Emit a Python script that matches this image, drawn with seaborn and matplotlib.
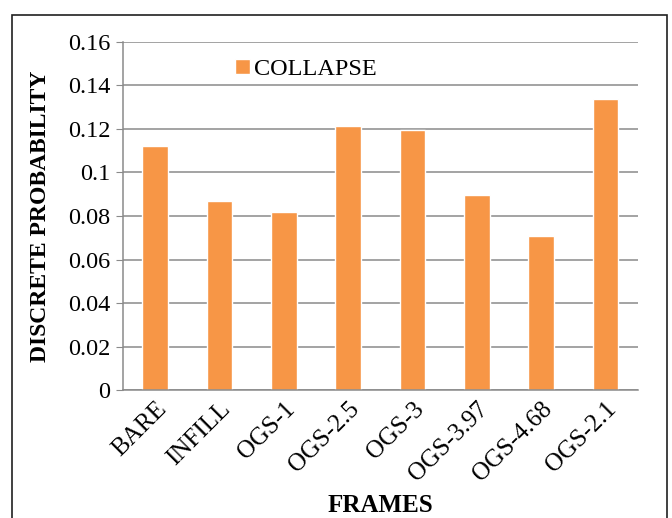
import matplotlib
matplotlib.use("Agg")
import matplotlib.pyplot as plt
import matplotlib.patches as patches
from matplotlib.ticker import FuncFormatter
import seaborn as sns

# data
frames = ["BARE", "INFILL", "OGS-1", "OGS-2.5", "OGS-3", "OGS-3.97", "OGS-4.68", "OGS-2.1"]
collapse = [0.1122, 0.0870, 0.0818, 0.1214, 0.1195, 0.0895, 0.0708, 0.1338]
y_ticks = [0, 0.02, 0.04, 0.06, 0.08, 0.1, 0.12, 0.14, 0.16]

sns.set_style("white", {"text.color": "black", "axes.labelcolor": "black",
                        "xtick.color": "black", "ytick.color": "black"})
plt.rcParams["font.family"] = ["Liberation Serif", "DejaVu Serif"]

fig = plt.figure(figsize=(6.72, 5.18), dpi=100)
ax = fig.add_axes([0.183, 0.247, 0.766, 0.672])

sns.barplot(x=frames, y=collapse, color="#F79646", width=0.4,
            saturation=1, label="COLLAPSE", ax=ax)

ax.set_ylim(0, 0.16)
ax.set_yticks(y_ticks)
ax.yaxis.set_major_formatter(FuncFormatter(lambda v, p: f"{v:g}"))
ax.grid(axis="y", color="#8a8a8a", linewidth=1.1)
ax.set_axisbelow(True)

for side in ["top", "right"]:
    ax.spines[side].set_visible(False)
for side in ["left", "bottom"]:
    ax.spines[side].set_color("#8a8a8a")
    ax.spines[side].set_linewidth(1.1)

ax.tick_params(axis="y", left=True, length=5, color="#8a8a8a", labelcolor="black",
               labelsize=17.5, pad=4)
ax.tick_params(axis="x", bottom=False, labelcolor="black", labelsize=18, pad=2)
for lab in ax.get_xticklabels():
    lab.set_rotation(45)
    lab.set_ha("right")
    lab.set_rotation_mode("anchor")

ax.set_xlabel("FRAMES", fontsize=18, fontweight="bold", color="black")
ax.xaxis.set_label_coords(0.5, -0.30)
ax.set_ylabel("DISCRETE PROBABILITY", fontsize=17, fontweight="bold", color="black")
ax.yaxis.set_label_coords(-0.14, 0.5)

leg = ax.legend(loc="upper left", bbox_to_anchor=(0.175, 1.015), frameon=False,
                fontsize=17.5, handlelength=0.6, handleheight=0.6, handletextpad=0.2)
for t in leg.get_texts():
    t.set_color("black")

# outer chart border
fig.patches.append(patches.Rectangle((12 / 672, -0.05), 655 / 672, 1.05 - 15 / 518,
                                     transform=fig.transFigure, fill=False,
                                     edgecolor="#202020", linewidth=1.2))

fig.savefig("out.png", dpi=100)
